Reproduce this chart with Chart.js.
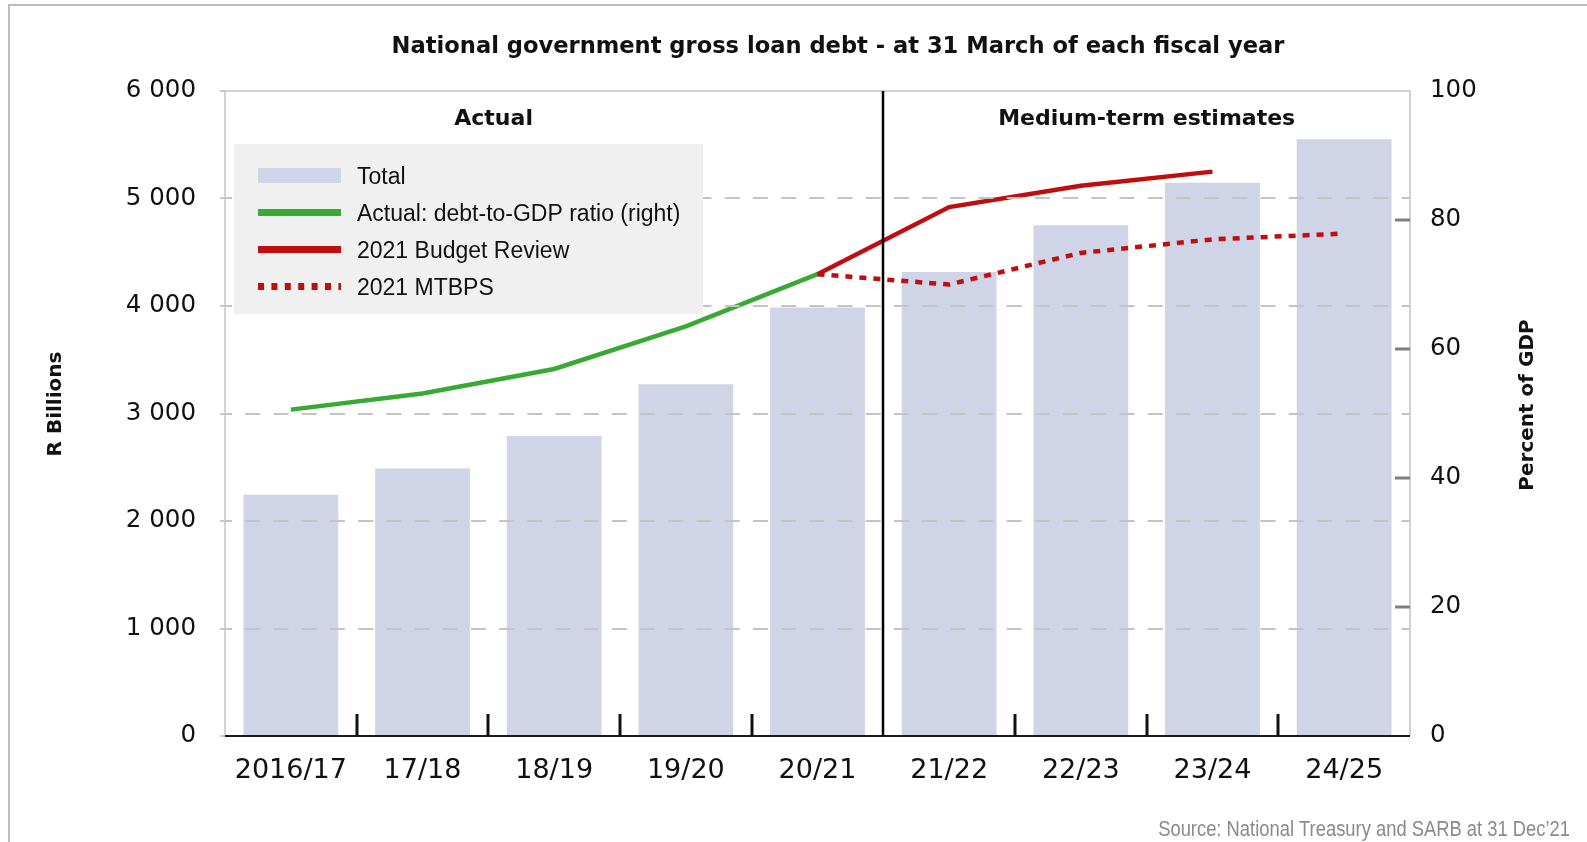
<!DOCTYPE html>
<html>
<head>
<meta charset="utf-8">
<script src="https://cdn.jsdelivr.net/npm/chart.js@4.4.0/dist/chart.umd.min.js"></script>
<style>
  html, body { margin: 0; padding: 0; background: #ffffff; }
  #wrap { position: relative; width: 1587px; height: 842px; }
</style>
</head>
<body>
<div id="wrap"><canvas id="c"></canvas></div>
<script>
// ---------- data ----------
const categories = ['2016/17', '17/18', '18/19', '19/20', '20/21', '21/22', '22/23', '23/24', '24/25'];
const totalDebt = [2244, 2489, 2791, 3271, 3987, 4317, 4751, 5146, 5551];
const actualRatio = [50.6, 53.1, 56.9, 63.5, 71.6, null, null, null, null];
const budgetReview2021 = [null, null, null, null, 71.6, 82.0, 85.3, 87.5, null];
const mtbps2021 = [null, null, null, null, 71.6, 70.0, 74.9, 77.0, 77.9];
const leftTicks = [0, 1000, 2000, 3000, 4000, 5000, 6000];
const rightTicks = [0, 20, 40, 60, 80, 100];
const seriesNames = ['Total', 'Actual: debt-to-GDP ratio (right)', '2021 Budget Review', '2021 MTBPS'];
const periodLabels = ['Actual', 'Medium-term estimates'];
const titleText = 'National government gross loan debt - at 31 March of each fiscal year';
const leftAxisTitle = 'R Billions';
const rightAxisTitle = 'Percent of GDP';
const sourceText = 'Source: National Treasury and SARB at 31 Dec\u201921';

// ---------- styles ----------
const BAR = '#cfd5e6';
const GREEN = '#39a935';
const RED = '#c00d0d';
const fmt = v => String(v).replace(/\B(?=(\d{3})+(?!\d))/g, ' ');

const decor = {
  id: 'decor',
  beforeDraw(chart) {
    const ctx = chart.ctx;
    ctx.save();
    ctx.fillStyle = '#ffffff';
    ctx.fillRect(0, 0, chart.width, chart.height);
    ctx.strokeStyle = '#bdbdbd';
    ctx.lineWidth = 2;
    ctx.beginPath();
    ctx.moveTo(9, chart.height);
    ctx.lineTo(9, 5);
    ctx.lineTo(chart.width, 5);
    ctx.stroke();
    ctx.restore();
  },
  afterDraw(chart) {
    const ctx = chart.ctx;
    const a = chart.chartArea;
    const x = chart.scales.x;
    const y1 = chart.scales.y1;
    ctx.save();

    // plot frame (top, left, right)
    ctx.strokeStyle = '#c3c3c3';
    ctx.lineWidth = 1.5;
    ctx.beginPath();
    ctx.moveTo(a.left, a.bottom);
    ctx.lineTo(a.left, a.top);
    ctx.lineTo(a.right, a.top);
    ctx.lineTo(a.right, a.bottom);
    ctx.stroke();

    // bottom axis line
    ctx.strokeStyle = '#1a1a1a';
    ctx.lineWidth = 2;
    ctx.beginPath();
    ctx.moveTo(a.left, a.bottom);
    ctx.lineTo(a.right, a.bottom);
    ctx.stroke();

    // category separators + divider between actual and estimates
    for (let k = 1; k < categories.length; k++) {
      const xb = Math.round(x.getPixelForValue(k - 0.5));
      ctx.beginPath();
      if (k === 5) {
        ctx.lineWidth = 2.5;
        ctx.strokeStyle = '#000';
        ctx.moveTo(xb, a.top);
      } else {
        ctx.lineWidth = 3;
        ctx.strokeStyle = '#111';
        ctx.moveTo(xb, a.bottom - 22);
      }
      ctx.lineTo(xb, a.bottom);
      ctx.stroke();
    }

    // right axis tick marks (inside)
    ctx.strokeStyle = '#7f7f7f';
    ctx.lineWidth = 3;
    rightTicks.forEach(v => {
      if (v === 0 || v === 100) return;
      const yy = y1.getPixelForValue(v);
      ctx.beginPath();
      ctx.moveTo(a.right - 15, yy);
      ctx.lineTo(a.right, yy);
      ctx.stroke();
    });

    // period labels
    ctx.fillStyle = '#111';
    ctx.font = 'bold 22px "DejaVu Sans"';
    ctx.textAlign = 'center';
    ctx.textBaseline = 'middle';
    ctx.fillText(periodLabels[0], x.getPixelForValue(1.54), 119);
    ctx.fillText(periodLabels[1], x.getPixelForValue(6.5), 119);

    // legend
    const lx = 234, ly = 144, lw = 469, lh = 170;
    ctx.fillStyle = '#f0f0f0';
    ctx.fillRect(lx, ly, lw, lh);
    const ds = chart.data.datasets;
    const sx = 258, sw = 83;
    for (let i = 0; i < 4; i++) {
      const cy = 175.5 + 37 * i;
      const d = ds[i];
      if (d.type === 'bar') {
        ctx.fillStyle = d.backgroundColor;
        ctx.fillRect(sx, cy - 7.5, sw, 15);
      } else {
        ctx.strokeStyle = d.borderColor;
        ctx.lineWidth = 7;
        ctx.lineCap = 'butt';
        ctx.setLineDash(d.borderDash ? [6, 7.4] : []);
        ctx.beginPath();
        ctx.moveTo(sx, cy);
        ctx.lineTo(sx + sw, cy);
        ctx.stroke();
        ctx.setLineDash([]);
      }
      ctx.fillStyle = '#111';
      ctx.font = '23px "Liberation Sans"';
      ctx.textAlign = 'left';
      ctx.textBaseline = 'alphabetic';
      ctx.fillText(d.label, 357, cy + 8.3);
    }

    // title
    ctx.fillStyle = '#111';
    ctx.font = 'bold 22.6px "DejaVu Sans"';
    ctx.textAlign = 'center';
    ctx.textBaseline = 'alphabetic';
    ctx.fillText(titleText, 838, 52.5);

    // axis titles
    ctx.font = 'bold 20px "DejaVu Sans"';
    ctx.textBaseline = 'middle';
    ctx.save();
    ctx.translate(56, 404);
    ctx.rotate(-Math.PI / 2);
    ctx.fillText(leftAxisTitle, 0, 0);
    ctx.restore();
    ctx.save();
    ctx.translate(1528, 405);
    ctx.rotate(-Math.PI / 2);
    ctx.fillText(rightAxisTitle, 0, 0);
    ctx.restore();

    // source (narrow rendering)
    ctx.save();
    ctx.fillStyle = '#8a8a8a';
    ctx.font = '22px "Liberation Sans"';
    ctx.textAlign = 'right';
    ctx.textBaseline = 'alphabetic';
    ctx.translate(1570, 836);
    ctx.scale(0.835, 1);
    ctx.fillText(sourceText, 0, 0);
    ctx.restore();

    ctx.restore();
  }
};

new Chart(document.getElementById('c'), {
  type: 'bar',
  data: {
    labels: categories,
    datasets: [
      { type: 'bar', label: seriesNames[0], data: totalDebt, yAxisID: 'y',
        backgroundColor: BAR, borderWidth: 0, barPercentage: 0.72, categoryPercentage: 1.0, order: 10 },
      { type: 'line', label: seriesNames[1], data: actualRatio, yAxisID: 'y1',
        borderColor: GREEN, backgroundColor: GREEN, borderWidth: 4.5, pointRadius: 0, tension: 0, spanGaps: false, order: 3 },
      { type: 'line', label: seriesNames[2], data: budgetReview2021, yAxisID: 'y1',
        borderColor: RED, backgroundColor: RED, borderWidth: 4.5, pointRadius: 0, tension: 0, spanGaps: false, order: 2 },
      { type: 'line', label: seriesNames[3], data: mtbps2021, yAxisID: 'y1',
        borderColor: RED, backgroundColor: RED, borderWidth: 4.5, borderDash: [7, 7], borderCapStyle: 'butt',
        pointRadius: 0, tension: 0, spanGaps: false, order: 1 }
    ]
  },
  options: {
    responsive: true,
    maintainAspectRatio: false,
    animation: false,
    events: [],
    layout: { padding: { left: 0, right: 0, top: 91, bottom: 46 } },
    plugins: { legend: { display: false }, title: { display: false }, tooltip: { enabled: false } },
    scales: {
      x: {
        offset: true,
        grid: { display: false },
        border: { display: false },
        ticks: { color: '#111', font: { family: 'DejaVu Sans', size: 27 }, padding: 11, maxRotation: 0, autoSkip: false },
        afterFit: s => { s.height = 60; }
      },
      y: {
        position: 'left',
        min: 0, max: 6000,
        afterBuildTicks: s => { s.ticks = leftTicks.map(v => ({ value: v })); },
        grid: {
          color: c => (c.tick && (c.tick.value === 0 || c.tick.value === 6000)) ? 'rgba(0,0,0,0)' : '#c4c4c4',
          lineWidth: 2, tickLength: 5, tickColor: '#b8b8b8', tickWidth: 1.5, z: 1
        },
        border: { display: false, dash: [15, 13.2], dashOffset: 7.9 },
        ticks: { color: '#111', font: { family: 'DejaVu Sans', size: 24.5 }, padding: 24, callback: v => fmt(v) },
        afterFit: s => { s.width = 225; }
      },
      y1: {
        position: 'right',
        min: 0, max: 100,
        afterBuildTicks: s => { s.ticks = rightTicks.map(v => ({ value: v })); },
        grid: { display: false },
        border: { display: false },
        ticks: { color: '#111', font: { family: 'DejaVu Sans', size: 24.5 }, padding: 12 },
        afterFit: s => { s.width = 177; }
      }
    }
  },
  plugins: [decor]
});
</script>
</body>
</html>
